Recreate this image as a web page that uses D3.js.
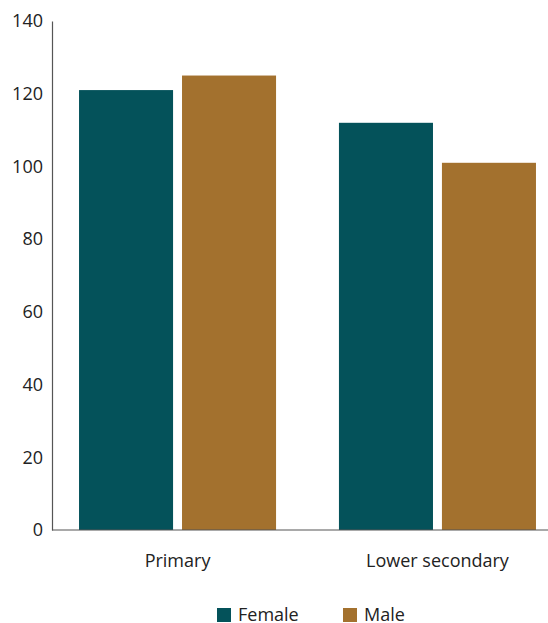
<!DOCTYPE html>
<html>
<head>
<meta charset="utf-8">
<script src="https://cdn.jsdelivr.net/npm/d3@7"></script>
<style>
  html, body { margin: 0; padding: 0; background: #fff; }
  svg { display: block; font-family: "Open Sans", "Noto Sans", sans-serif; }
</style>
</head>
<body>
<svg id="chart" width="548" height="623"></svg>
<script>
// Education levels and values by sex
const categories = ["Primary", "Lower secondary"];
const seriesNames = ["Female", "Male"];
const femaleValues = [121, 112];
const maleValues = [125, 101];
const yTicks = [0, 20, 40, 60, 80, 100, 120, 140];
const colors = ["#04525a", "#a3712e"];

const rows = categories.map((c, i) => ({
  category: c,
  values: [femaleValues[i], maleValues[i]]
}));

const svg = d3.select("#chart");
const axisX = 52, baseY = 530;
const fontSize = 18;

const y = d3.scaleLinear().domain([0, 140]).range([baseY, 21]);

// group positions along the category axis
const x0 = d3.scaleBand().domain(categories).range([axisX, 563])
  .paddingInner(0.242).paddingOuter(0.104);
const x1 = d3.scaleBand().domain(seriesNames).range([0, x0.bandwidth()])
  .paddingInner(0.087).paddingOuter(0);

// bars
const groups = svg.append("g").selectAll("g").data(rows).join("g")
  .attr("transform", d => `translate(${x0(d.category)},0)`);
groups.selectAll("rect")
  .data(d => d.values.map((v, i) => ({ name: seriesNames[i], value: v, i })))
  .join("rect")
  .attr("x", d => x1(d.name))
  .attr("width", x1.bandwidth())
  .attr("y", d => y(d.value))
  .attr("height", d => baseY - y(d.value))
  .attr("fill", d => colors[d.i]);

// y axis
const yAxis = svg.append("g").attr("transform", `translate(${axisX},0)`)
  .call(d3.axisLeft(y).tickValues(yTicks).tickSize(0).tickPadding(9));
yAxis.select(".domain").attr("stroke", "#555").attr("stroke-width", 1.2);
yAxis.selectAll("text").attr("font-size", fontSize).attr("fill", "#222")
  .attr("font-family", "'Open Sans', 'Noto Sans', sans-serif");

// x axis baseline
svg.append("line")
  .attr("x1", axisX).attr("x2", 548)
  .attr("y1", baseY).attr("y2", baseY)
  .attr("stroke", "#555").attr("stroke-width", 1.2);

// category labels, centred under each group
svg.append("g").selectAll("text").data(categories).join("text")
  .attr("x", d => x0(d) + x0.bandwidth() / 2)
  .attr("y", 561)
  .attr("dy", "0.35em")
  .attr("text-anchor", "middle")
  .attr("font-size", fontSize)
  .attr("fill", "#222")
  .text(d => d);

// legend
const legendX = d3.scalePoint().domain(seriesNames).range([217, 343]);
const legend = svg.append("g").selectAll("g").data(seriesNames).join("g")
  .attr("transform", d => `translate(${legendX(d)},608)`);
legend.append("rect")
  .attr("width", 14).attr("height", 14)
  .attr("fill", (d, i) => colors[i]);
legend.append("text")
  .attr("x", 21).attr("y", 7).attr("dy", "0.35em")
  .attr("font-size", fontSize).attr("fill", "#222")
  .text(d => d);
</script>
</body>
</html>
